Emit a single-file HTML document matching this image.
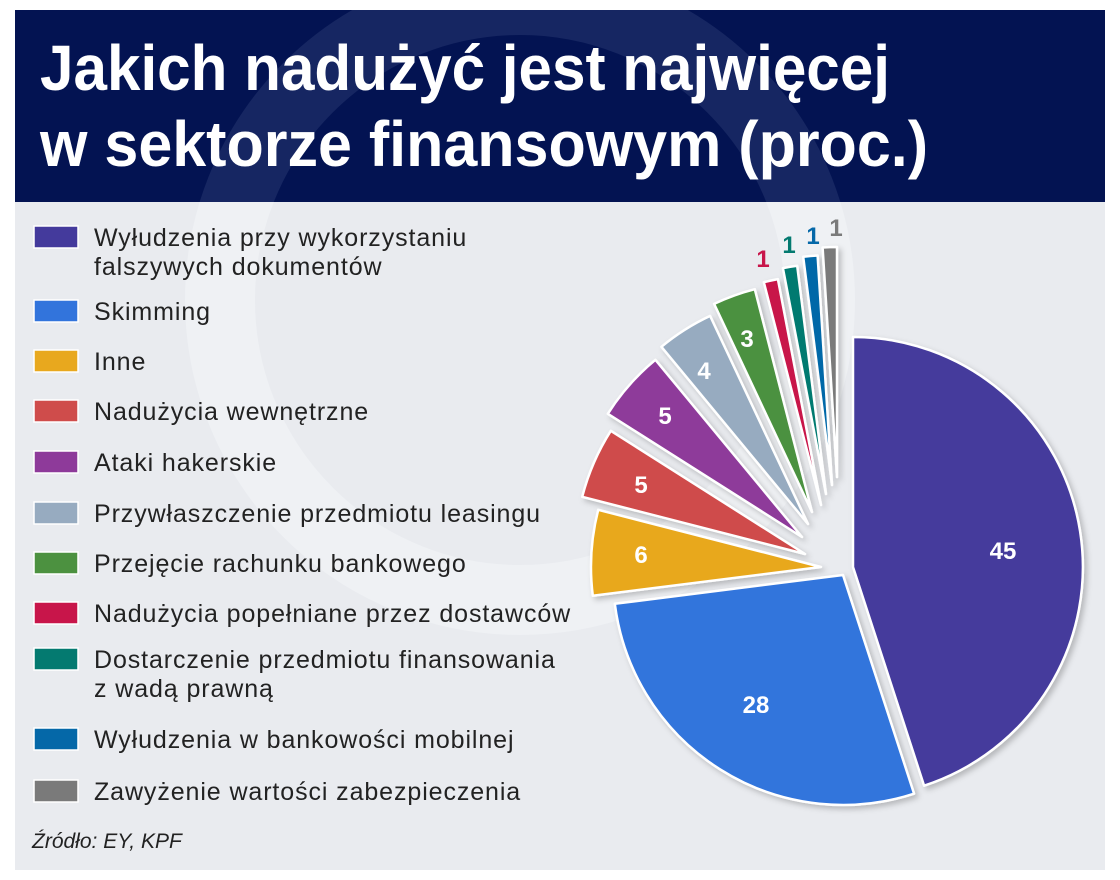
<!DOCTYPE html>
<html><head><meta charset="utf-8">
<style>
html,body{margin:0;padding:0;background:#fff;}
svg{display:block;}
</style></head>
<body>
<svg id="s" width="1120" height="880" viewBox="0 0 1120 880" xmlns="http://www.w3.org/2000/svg" font-family="'Liberation Sans', sans-serif">
<defs>
<filter id="sh" x="-20%" y="-20%" width="140%" height="140%">
<feDropShadow dx="3" dy="3" stdDeviation="3" flood-color="#000" flood-opacity="0.22"/>
</filter>
<clipPath id="hc"><rect x="15" y="10" width="1090" height="192"/></clipPath>
<clipPath id="bc"><rect x="15" y="202" width="1090" height="668"/></clipPath>
</defs>
<rect x="15" y="10" width="1090" height="192" fill="#031352"/>
<g clip-path="url(#hc)" fill="none" stroke="#2a3a72" stroke-width="70" opacity="0.5">
<circle cx="520" cy="300" r="300"/>
</g>
<rect x="15" y="202" width="1090" height="668" fill="#e9ebef"/>
<g clip-path="url(#bc)" fill="none" stroke="#f1f3f6" stroke-width="70" opacity="0.7">
<circle cx="520" cy="300" r="300"/>
</g>
<text x="40" y="90" font-size="64" font-weight="bold" fill="#fff" textLength="850" lengthAdjust="spacingAndGlyphs">Jakich nadużyć jest najwięcej</text>
<text x="40" y="166" font-size="64" font-weight="bold" fill="#fff" textLength="888" lengthAdjust="spacingAndGlyphs">w sektorze finansowym (proc.)</text>

<g font-size="25" fill="#222" letter-spacing="0.9">
<rect x="34" y="226" width="44" height="22" fill="#443a9c" stroke="#fff" stroke-width="1.5"/>
<text x="94" y="246">Wyłudzenia przy wykorzystaniu</text>
<text x="94" y="275">falszywych dokumentów</text>
<rect x="34" y="300" width="44" height="22" fill="#3274dc" stroke="#fff" stroke-width="1.5"/>
<text x="94" y="320">Skimming</text>
<rect x="34" y="350" width="44" height="22" fill="#e8a81e" stroke="#fff" stroke-width="1.5"/>
<text x="94" y="370">Inne</text>
<rect x="34" y="400" width="44" height="22" fill="#cf4c4b" stroke="#fff" stroke-width="1.5"/>
<text x="94" y="420">Nadużycia wewnętrzne</text>
<rect x="34" y="451" width="44" height="22" fill="#8e3a9a" stroke="#fff" stroke-width="1.5"/>
<text x="94" y="471">Ataki hakerskie</text>
<rect x="34" y="502" width="44" height="22" fill="#97abc0" stroke="#fff" stroke-width="1.5"/>
<text x="94" y="522">Przywłaszczenie przedmiotu leasingu</text>
<rect x="34" y="552" width="44" height="22" fill="#4c9140" stroke="#fff" stroke-width="1.5"/>
<text x="94" y="572">Przejęcie rachunku bankowego</text>
<rect x="34" y="602" width="44" height="22" fill="#c8154a" stroke="#fff" stroke-width="1.5"/>
<text x="94" y="622">Nadużycia popełniane przez dostawców</text>
<rect x="34" y="648" width="44" height="22" fill="#047a70" stroke="#fff" stroke-width="1.5"/>
<text x="94" y="668">Dostarczenie przedmiotu finansowania</text>
<text x="94" y="697">z wadą prawną</text>
<rect x="34" y="728" width="44" height="22" fill="#0568a8" stroke="#fff" stroke-width="1.5"/>
<text x="94" y="748">Wyłudzenia w bankowości mobilnej</text>
<rect x="34" y="780" width="44" height="22" fill="#7a7a7a" stroke="#fff" stroke-width="1.5"/>
<text x="94" y="800">Zawyżenie wartości zabezpieczenia</text>
</g>
<text x="32" y="848" font-size="21" font-style="italic" fill="#222">Źródło: EY, KPF</text>

<g id="pie" filter="url(#sh)" stroke="#fff" stroke-width="2.5" stroke-linejoin="round"></g>
<g font-size="24" font-weight="bold" fill="#fff" text-anchor="middle">
<text x="1003" y="559">45</text>
<text x="756" y="713">28</text>
<text x="641" y="563">6</text>
<text x="641" y="493">5</text>
<text x="665" y="424">5</text>
<text x="704" y="379">4</text>
<text x="747" y="347">3</text>
<text x="763" y="267" fill="#c8154a">1</text>
<text x="789" y="253" fill="#047a70">1</text>
<text x="813" y="244" fill="#0568a8">1</text>
<text x="836" y="236" fill="#7a7a7a">1</text>
</g>
</svg>
<script>
var sl=[
[0,162,853,567,"#443a9c"],
[162,262.8,843,575,"#3274dc"],
[262.8,284.4,821,567,"#e8a81e"],
[284.4,302.4,805,554,"#cf4c4b"],
[302.4,320.4,802,537,"#8e3a9a"],
[320.4,334.8,808,524,"#97abc0"],
[334.8,345.6,812,512,"#4c9140"],
[345.6,349.2,821,505,"#c8154a"],
[349.2,352.8,826,494,"#047a70"],
[352.8,356.4,832,485,"#0568a8"],
[356.4,360,837,477,"#7a7a7a"]];
var r=230,g=document.getElementById("pie"),h="";
function pt(cx,cy,a){a=a*Math.PI/180;return (cx+r*Math.sin(a)).toFixed(1)+" "+(cy-r*Math.cos(a)).toFixed(1);}
sl.forEach(function(s){
var large=(s[1]-s[0])>180?1:0;
h+='<path d="M'+s[2]+' '+s[3]+' L'+pt(s[2],s[3],s[0])+' A'+r+' '+r+' 0 '+large+' 1 '+pt(s[2],s[3],s[1])+' Z" fill="'+s[4]+'"/>';
});
g.innerHTML=h;
</script>
</body></html>
